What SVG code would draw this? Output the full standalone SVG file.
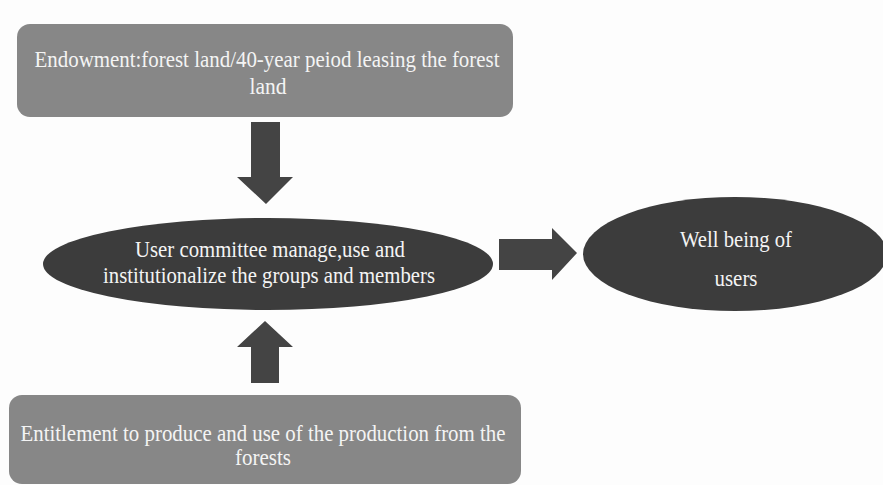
<svg xmlns="http://www.w3.org/2000/svg" width="883" height="485" viewBox="0 0 883 485">
<style>
.box{fill:#878787;}
.ell{fill:#3c3c3c;}
.arr{fill:#444444;}
.t{font-family:"Liberation Serif","Times New Roman",serif;font-size:23px;fill:#f4f4f4;text-anchor:middle;}
</style>
<rect width="883" height="485" fill="#fdfdfd"/>
<g id="connectors">
<polygon class="arr" points="251,122 280,122 280,177 293,177 266,204 237,177 251,177"/>
<polygon class="arr" points="265,321 293,347 279,347 279,383 251,383 251,347 237,347"/>
<polygon class="arr" points="499,239 552,239 552,228 577,253 552,280 552,270 499,270"/>
</g>
<g id="endowment">
<rect class="box" x="17" y="24" width="496" height="93" rx="13"/>
<text class="t" x="267" y="67" textLength="465" lengthAdjust="spacingAndGlyphs">Endowment:forest land/40-year peiod leasing the forest</text>
<text class="t" x="268" y="94" textLength="37" lengthAdjust="spacingAndGlyphs">land</text>
</g>
<g id="committee">
<ellipse class="ell" cx="268" cy="264" rx="225" ry="46"/>
<text class="t" x="270" y="257" textLength="270" lengthAdjust="spacingAndGlyphs">User committee manage,use and</text>
<text class="t" x="269" y="283" textLength="332" lengthAdjust="spacingAndGlyphs">institutionalize the groups and members</text>
</g>
<g id="wellbeing">
<ellipse class="ell" cx="735" cy="254" rx="152" ry="57"/>
<text class="t" x="736" y="247" textLength="112" lengthAdjust="spacingAndGlyphs">Well being of</text>
<text class="t" x="736" y="286" textLength="43" lengthAdjust="spacingAndGlyphs">users</text>
</g>
<g id="entitlement">
<rect class="box" x="9" y="395" width="512" height="89" rx="13"/>
<text class="t" x="263" y="441" textLength="485" lengthAdjust="spacingAndGlyphs">Entitlement to produce and use of the production from the</text>
<text class="t" x="263" y="465" textLength="56" lengthAdjust="spacingAndGlyphs">forests</text>
</g>
</svg>
